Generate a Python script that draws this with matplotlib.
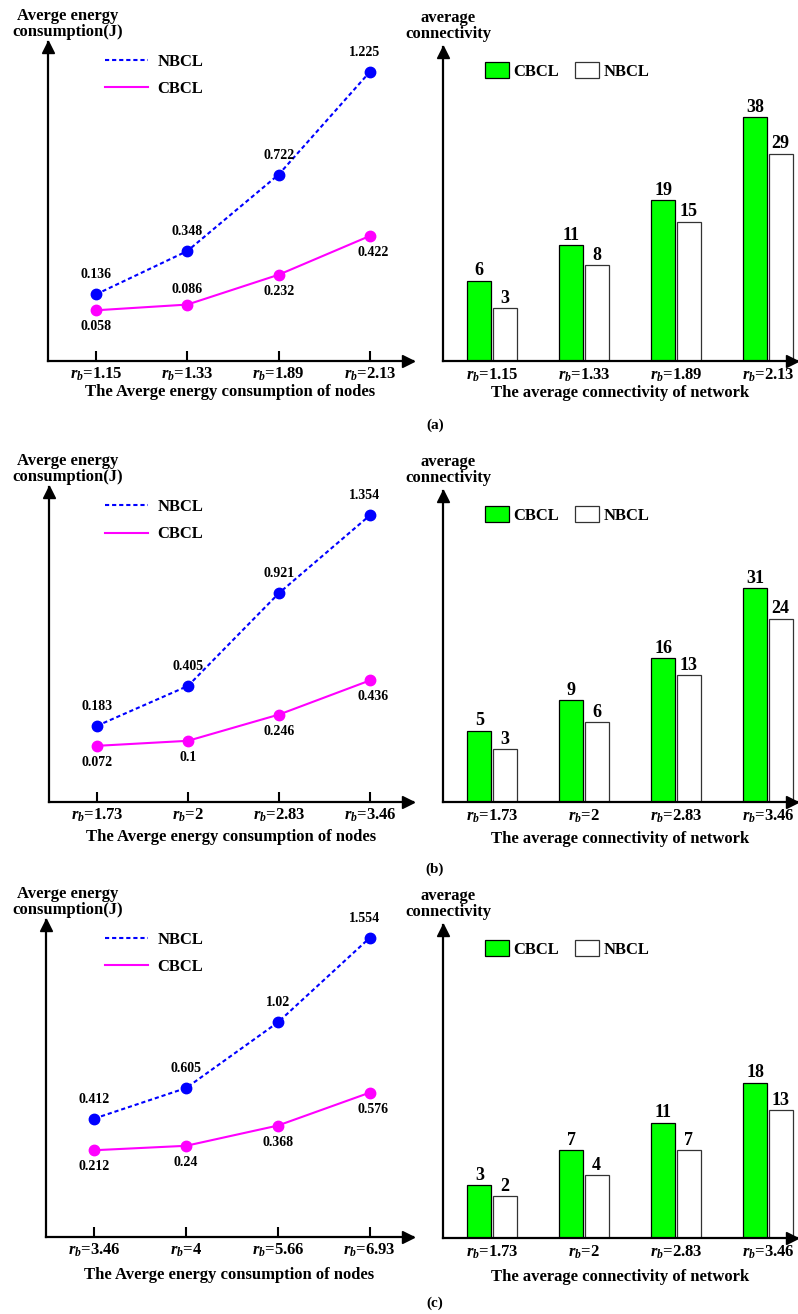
import matplotlib
matplotlib.use("Agg")
import matplotlib.pyplot as plt
from matplotlib.lines import Line2D
from matplotlib.patches import Patch
from matplotlib.transforms import offset_copy
import numpy as np

plt.rcParams['font.family'] = ['Liberation Serif', 'DejaVu Serif']
plt.rcParams['font.weight'] = 'bold'
plt.rcParams['mathtext.fontset'] = 'custom'
plt.rcParams['mathtext.it'] = 'Liberation Serif:italic:bold'
plt.rcParams['mathtext.rm'] = 'Liberation Serif:bold'
plt.rcParams['mathtext.bf'] = 'Liberation Serif:bold'

# ---- data ----
energy_rb_a = ["1.15", "1.33", "1.89", "2.13"]
energy_rb_b = ["1.73", "2", "2.83", "3.46"]
energy_rb_c = ["3.46", "4", "5.66", "6.93"]

energy_nbcl_a = [0.136, 0.348, 0.722, 1.225]
energy_cbcl_a = [0.058, 0.086, 0.232, 0.422]
energy_nbcl_b = [0.183, 0.405, 0.921, 1.354]
energy_cbcl_b = [0.072, 0.1, 0.246, 0.436]
energy_nbcl_c = [0.412, 0.605, 1.02, 1.554]
energy_cbcl_c = [0.212, 0.24, 0.368, 0.576]

conn_rb_a = ["1.15", "1.33", "1.89", "2.13"]
conn_rb_b = ["1.73", "2", "2.83", "3.46"]
conn_rb_c = ["1.73", "2", "2.83", "3.46"]

conn_cbcl_a = [6, 11, 19, 38]
conn_nbcl_a = [3, 8, 15, 29]
conn_cbcl_b = [5, 9, 16, 31]
conn_nbcl_b = [3, 6, 13, 24]
conn_cbcl_c = [3, 7, 11, 18]
conn_nbcl_c = [2, 4, 7, 13]

W, H = 798, 1314
fig = plt.figure(figsize=(W / 100, H / 100), dpi=100)


def px_axes(l, t, r, b):
    return fig.add_axes([l / W, 1 - b / H, (r - l) / W, (b - t) / H])


def arrow_axes(ax):
    for s in ['top', 'right']:
        ax.spines[s].set_visible(False)
    for s in ['left', 'bottom']:
        ax.spines[s].set_linewidth(1.6)
    # arrow heads, shifted so the tip sits on the end of the axis line
    up = offset_copy(ax.transAxes, fig=fig, y=-5, units='dots')
    right = offset_copy(ax.transAxes, fig=fig, x=-5, units='dots')
    ax.plot(0, 1, '^', color='black', ms=8, transform=up, clip_on=False)
    ax.plot(1, 0, '>', color='black', ms=8, transform=right, clip_on=False)
    ax.set_yticks([])


def rb_labels(vals):
    return [r'$r_b$=' + v for v in vals]


def energy_panel(ax, rb, nbcl, cbcl, ylim, cbcl_pos, labelpad):
    x = np.arange(len(rb))
    ax.plot(x, nbcl, color='#0000ff', lw=1.5, ls=(0, (2, 1.4)), marker='o', ms=7.5, clip_on=False)
    ax.plot(x, cbcl, color='#ff00ff', lw=1.5, marker='o', ms=7.5, clip_on=False)
    ax.set_xlim(-0.526, 3.47)
    ax.set_ylim(*ylim)
    arrow_axes(ax)
    ax.set_xticks(x)
    ax.set_xticklabels(rb_labels(rb), fontsize=12)
    ax.tick_params(axis='x', direction='in', length=7, width=1.5, pad=3)
    ax.set_xlabel('The Averge energy consumption of nodes', fontsize=12, fontweight='bold', labelpad=labelpad)
    for i, v in enumerate(nbcl):
        dx = -4 if i == len(nbcl) - 1 else 0
        ax.annotate(str(v), (x[i], v), xytext=(dx, 14), textcoords='offset points',
                    ha='center', va='center', fontsize=10)
    for i, v in enumerate(cbcl):
        if cbcl_pos[i] == 'above':
            off = (0, 11)
        else:
            off = (2 if i == len(cbcl) - 1 else 0, -12)
        ax.annotate(str(v), (x[i], v), xytext=off, textcoords='offset points',
                    ha='center', va='center', fontsize=10)
    handles = [Line2D([], [], color='#0000ff', lw=1.5, ls=(0, (2, 1.4))),
               Line2D([], [], color='#ff00ff', lw=1.5)]
    top = ax.get_position().y1 * H
    ax.legend(handles, ['NBCL', 'CBCL'], loc='upper left', frameon=False, fontsize=12,
              bbox_to_anchor=(105 / W, (top - 12) / H), bbox_transform=fig.transFigure,
              borderpad=0, borderaxespad=0, handlelength=2.6, handletextpad=0.55,
              labelspacing=0.68)


def fwd(v):
    return np.sign(v) * np.abs(v) ** 0.6


def inv(v):
    return np.sign(v) * np.abs(v) ** (1 / 0.6)


def conn_panel(ax, rb, cbcl, nbcl, labelpad):
    x = np.arange(len(rb))
    ax.set_yscale('function', functions=(fwd, inv))
    b1 = ax.bar(x - 0.138, cbcl, 0.26, color='#00ff00', edgecolor='black', lw=0.9)
    b2 = ax.bar(x + 0.138, nbcl, 0.26, color='white', edgecolor='#333333', lw=0.9)
    ax.bar_label(b1, padding=1, fontsize=13)
    ax.bar_label(b2, padding=1, fontsize=13)
    ax.set_xlim(-0.533, 3.315)
    ax.set_ylim(0, 58)
    arrow_axes(ax)
    ax.set_yticks([])
    ax.minorticks_off()
    ax.set_xticks(x)
    ax.set_xticklabels(rb_labels(rb), fontsize=12)
    ax.tick_params(axis='x', length=0, pad=4)
    ax.set_xlabel('The average connectivity of network', fontsize=12, fontweight='bold', labelpad=labelpad)
    handles = [Patch(facecolor='#00ff00', edgecolor='black', lw=0.9),
               Patch(facecolor='white', edgecolor='#333333', lw=0.9)]
    top = ax.get_position().y1 * H
    ax.legend(handles, ['CBCL', 'NBCL'], loc='upper left', frameon=False, fontsize=12, ncol=2,
              bbox_to_anchor=(485 / W, (top - 15) / H), bbox_transform=fig.transFigure,
              borderpad=0, borderaxespad=0, handlelength=1.45, handleheight=1.1,
              handletextpad=0.25, columnspacing=0.95)


rows = [
    dict(left=(48, 42, 413, 361), right=(443, 47, 797, 361),
         rb_e=energy_rb_a, nb=energy_nbcl_a, cb=energy_cbcl_a, ylim=(-0.19, 1.37),
         pos=['below', 'above', 'below', 'below'],
         rb_c=conn_rb_a, cc=conn_cbcl_a, cn=conn_nbcl_a, lp=1, tag='(a)', tag_y=425),
    dict(left=(49, 487, 413, 802), right=(443, 491, 797, 802),
         rb_e=energy_rb_b, nb=energy_nbcl_b, cb=energy_cbcl_b, ylim=(-0.24, 1.51),
         pos=['below'] * 4,
         rb_c=conn_rb_b, cc=conn_cbcl_b, cn=conn_nbcl_b, lp=4, tag='(b)', tag_y=869),
    dict(left=(46, 920, 413, 1237), right=(443, 925, 797, 1238),
         rb_e=energy_rb_c, nb=energy_nbcl_c, cb=energy_cbcl_c, ylim=(-0.336, 1.666),
         pos=['below'] * 4,
         rb_c=conn_rb_c, cc=conn_cbcl_c, cn=conn_nbcl_c, lp=6, tag='(c)', tag_y=1303),
]

for r in rows:
    axl = px_axes(*r['left'])
    energy_panel(axl, r['rb_e'], r['nb'], r['cb'], r['ylim'], r['pos'], r['lp'])
    axr = px_axes(*r['right'])
    conn_panel(axr, r['rb_c'], r['cc'], r['cn'], r['lp'])
    lt = r['left'][1]
    rt = r['right'][1]
    fig.text(68 / W, 1 - (lt - 18) / H, 'Averge energy\nconsumption(J)', ha='center', va='center',
             fontsize=12, linespacing=1.05)
    fig.text(448 / W, 1 - (rt - 21) / H, 'average\nconnectivity', ha='center', va='center',
             fontsize=12, linespacing=1.05)
    fig.text(435 / W, 1 - r['tag_y'] / H, r['tag'], ha='center', va='center', fontsize=11)

fig.savefig('out.png', dpi=100)
